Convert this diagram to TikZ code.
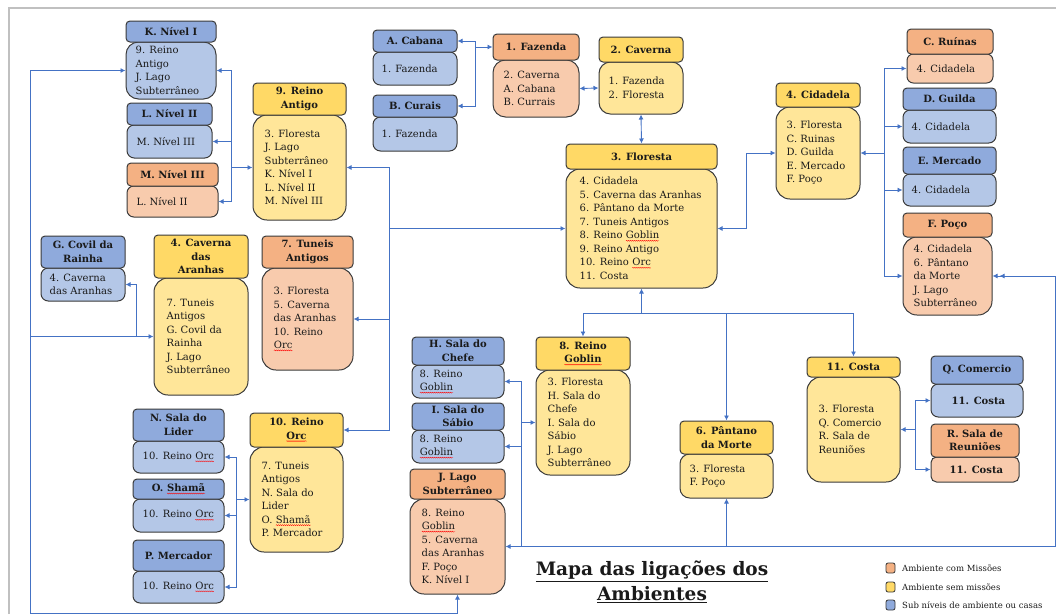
\documentclass[tikz,border=0pt]{standalone}
\usepackage{fontspec}
\setmainfont{DejaVu Serif}
\usetikzlibrary{arrows.meta,decorations.pathmorphing}
\definecolor{oH}{HTML}{F4B183}
\definecolor{oB}{HTML}{F8CBAD}
\definecolor{yH}{HTML}{FFD966}
\definecolor{yB}{HTML}{FFE699}
\definecolor{bH}{HTML}{8FAADC}
\definecolor{bB}{HTML}{B4C7E7}
\definecolor{bord}{HTML}{3A3A3A}
\definecolor{lnk}{HTML}{4472C4}
\definecolor{frm}{HTML}{C0C0C0}
\definecolor{txt}{HTML}{1A1A1A}
\newcommand\sq[1]{\tikz[baseline=(sqw.base)]{\node[inner sep=0pt, outer sep=0pt, anchor=base, draw=none, fill=none, minimum width=0pt, minimum height=0pt, sharp corners] (sqw) at (0,0) {#1};
 \draw[red, sharp corners, line width=0.35pt, decorate, decoration={snake, amplitude=0.5pt, segment length=2pt}] ([yshift=-1.8pt]sqw.base west) -- ([yshift=-1.8pt]sqw.base east);}}
\tikzset{
 hd/.style={draw=bord, line width=1pt, rounded corners=4pt, inner sep=0pt, align=center, text=txt, font=\bfseries\fontsize{10}{13.5}\selectfont},
 bx/.style={draw=bord, line width=1pt, inner sep=0pt},
 bt/.style={inner sep=0pt, align=left, anchor=west, text=txt, font=\fontsize{10}{13.5}\selectfont},
 lk/.style={draw=lnk, line width=0.9pt},
 ar/.style={lk, -{Latex[length=5pt,width=5pt]}},
 ar2/.style={lk, {Latex[length=5pt,width=5pt]}-{Latex[length=5pt,width=5pt]}},
 lg/.style={draw=bord, line width=0.8pt, rounded corners=2pt, minimum width=9pt, minimum height=10pt, inner sep=0pt},
 lt/.style={anchor=west, inner sep=0pt, text=txt, font=\fontsize{8.5}{10}\selectfont},
}
% name, colour, x1, x2, y-top, y-split, y-bottom, header text
\newcommand\ent[8]{%
 \pgfmathsetmacro\eew{#4-#3}%
 \pgfmathsetmacro\eeh{#6-#5}%
 \pgfmathsetmacro\eebh{#7-#6}%
 \pgfmathsetmacro\eer{min(14,0.22*\eebh)}%
 \pgfmathsetmacro\eecx{(#3+#4)/2}%
 \pgfmathsetmacro\eehy{(#5+#6)/2}%
 \pgfmathsetmacro\eeby{(#6+#7)/2}%
 \node[bx, fill=#2B, rounded corners=\eer pt, minimum width=\eew pt, minimum height=\eebh pt] (#1b) at (\eecx,\eeby) {};%
 \node[hd, fill=#2H, minimum width=\eew pt, minimum height=\eeh pt] (#1h) at (\eecx,\eehy) {#8};%
}
\newcommand\btx[3][11]{\node[bt] (#2t) at ([xshift=#1pt]#2b.west) {#3};}
\begin{document}
\begin{tikzpicture}[x=1pt,y=-1pt]
\useasboundingbox (0,0) rectangle (1056,614);
\draw[frm, line width=1.5pt] (9,614) -- (9,8) -- (1056,8);

% entities
\ent{K}{b}{126}{216}{21}{42}{99}{K. Nível I}
\btx[10]{K}{9. Reino\\Antigo\\J. Lago\\Subterrâneo}
\ent{L}{b}{127}{212}{103}{125}{158}{L. Nível II}
\btx[10]{L}{M. Nível III}
\ent{M}{o}{127}{218}{163}{186}{217}{M. Nível III}
\btx[10]{M}{L. Nível II}
\ent{RA}{y}{253}{346}{83}{115}{220}{9. Reino\\Antigo}
\btx[12]{RA}{3. Floresta\\J. Lago\\Subterrâneo\\K. Nível I\\L. Nível II\\M. Nível III}
\ent{Ca}{b}{373}{457}{30}{52}{85}{A. Cabana}
\btx[9]{Ca}{1. Fazenda}
\ent{Cu}{b}{373}{457}{95}{117}{151}{B. Curais}
\btx[9]{Cu}{1. Fazenda}
\ent{Fz}{o}{493}{579}{34}{60}{117}{1. Fazenda}
\btx[11]{Fz}{2. Caverna\\A. Cabana\\B. Currais}
\ent{Cv}{y}{599}{683}{37}{62}{114}{2. Caverna}
\btx[10]{Cv}{1. Fazenda\\2. Floresta}
\ent{Fl}{y}{566}{717}{144}{169}{288}{3. Floresta}
\btx[14]{Fl}{4. Cidadela\\5. Caverna das Aranhas\\6. Pântano da Morte\\7. Tuneis Antigos\\8. Reino \sq{Goblin}\\9. Reino Antigo\\10. Reino \sq{Orc}\\11. Costa}
\ent{Ci}{y}{776}{860}{83}{107}{199}{4. Cidadela}
\btx[11]{Ci}{3. Floresta\\C. Ruinas\\D. Guilda\\E. Mercado\\F. Poço}
\ent{C}{o}{907}{993}{29}{54}{83}{C. Ruínas}
\btx[10]{C}{4. Cidadela}
\ent{D}{b}{903}{996}{88}{110}{143}{D. Guilda}
\btx[9]{D}{4. Cidadela}
\ent{E}{b}{903}{996}{147}{174}{206}{E. Mercado}
\btx[9]{E}{4. Cidadela}
\ent{F}{o}{903}{992}{213}{237}{315}{F. Poço}
\btx[11]{F}{4. Cidadela\\6. Pântano\\da Morte\\J. Lago\\Subterrâneo}
\ent{G}{b}{41}{125}{236}{268}{301}{G. Covil da\\Rainha}
\btx[9]{G}{4. Caverna\\das Aranhas}
\ent{CA}{y}{154}{248}{235}{278}{395}{4. Caverna\\das\\Aranhas}
\btx[13]{CA}{7. Tuneis\\Antigos\\G. Covil da\\Rainha\\J. Lago\\Subterrâneo}
\ent{T}{o}{262}{353}{236}{268}{370}{7. Tuneis\\Antigos}
\btx[12]{T}{3. Floresta\\5. Caverna\\das Aranhas\\10. Reino\\\sq{Orc}}
\ent{N}{b}{133}{224}{409}{441}{473}{N. Sala do\\Lider}
\btx[10]{N}{10. Reino \sq{Orc}}
\ent{O}{b}{133}{224}{479}{499}{532}{O. \sq{Shamã}}
\btx[10]{O}{10. Reino \sq{Orc}}
\ent{P}{b}{133}{224}{540}{571}{603}{P. Mercador}
\btx[10]{P}{10. Reino \sq{Orc}}
\ent{Or}{y}{250}{343}{413}{447}{552}{10. Reino\\\sq{Orc}}
\btx[12]{Or}{7. Tuneis\\Antigos\\N. Sala do\\Lider\\O. \sq{Shamã}\\P. Mercador}
\ent{H}{b}{412}{504}{337}{365}{398}{H. Sala do\\Chefe}
\btx[8]{H}{8. Reino\\\sq{Goblin}}
\ent{I}{b}{412}{504}{403}{430}{463}{I. Sala do\\Sábio}
\btx[8]{I}{8. Reino\\\sq{Goblin}}
\ent{J}{o}{410}{505}{469}{499}{594}{J. Lago\\Subterrâneo}
\btx[12]{J}{8. Reino\\\sq{Goblin}\\5. Caverna\\das Aranhas\\F. Poço\\K. Nível I}
\ent{Gb}{y}{536}{630}{337}{370}{475}{8. Reino\\\sq{Goblin}}
\btx[12]{Gb}{3. Floresta\\H. Sala do\\Chefe\\I. Sala do\\Sábio\\J. Lago\\Subterrâneo}
\ent{Pa}{y}{680}{773}{421}{454}{498}{6. Pântano\\da Morte}
\btx[10]{Pa}{3. Floresta\\F. Poço}
\ent{Co}{y}{807}{900}{357}{377}{482}{11. Costa}
\btx[12]{Co}{3. Floresta\\Q. Comercio\\R. Sala de\\Reuniões}
\ent{Q}{b}{931}{1023}{356}{384}{417}{Q. Comercio}
\btx[21]{Q}{\textbf{11. Costa}}
\ent{R}{o}{931}{1019}{424}{457}{482}{R. Sala de\\Reuniões}
\btx[19]{R}{\textbf{11. Costa}}

% connectors: Nível I/II/III - Reino Antigo
\coordinate (j9) at ([xshift=-21pt]RAb.west);
\draw[ar] (j9) -- (RAb.west);
\draw[ar] (j9) |- (Kb.east);
\draw[ar] (j9) |- (Lb.east);
\draw[ar] (j9) |- (Mb.east);
% Floresta - Reino Antigo / Tuneis / Orc
\coordinate (jF) at ([xshift=-176pt]Flb.west);
\draw[ar] (jF) -- (Flb.west);
\draw[ar] (jF) |- (RAb.east);
\draw[ar] (jF) |- (Tb.east);
\draw[ar] (jF) |- (Orh.east);
% Cabana / Curais - Fazenda
\coordinate (jC) at ([xshift=-17pt]Fzh.west);
\draw[ar] (jC) -- (Fzh.west);
\draw[ar] (jC) |- (Cah.east);
\draw[ar] (jC) |- (Cuh.east);
% Fazenda - Caverna - Floresta - Cidadela
\draw[ar2] (Fzb.east) -- (Cvb.west);
\draw[ar2] (Cvb.south) -- (Flh.north);
\draw[ar2] (Flb.east) -- ++(29,0) |- (Cib.west);
% Cidadela - C/D/E/F
\coordinate (jCi) at ([xshift=24pt]Cib.east);
\draw[ar] (jCi) -- (Cib.east);
\draw[ar] (jCi) |- (Cb.west);
\draw[ar] (jCi) |- (Db.west);
\draw[ar] (jCi) |- (Eb.west);
\draw[ar] (jCi) |- (Fb.west);
% Lago network
\coordinate (jR) at (1055,546.5);
\coordinate (jJ) at ([xshift=16pt]Jb.east);
\coordinate (jP) at (Pab.south |- jJ);
\draw[ar] (jR) |- (Fb.east);
\draw[ar, shorten >=7pt] (jR) |- (Fb.east);
\draw[lk] (jR) -- (jJ);
\draw[ar] (jJ) -- (Jb.east);
\draw[ar] (jJ) |- (Hb.east);
\draw[ar] (jJ) |- (Ib.east);
\draw[ar] (jJ) |- (Gbb.west);
\draw[ar] (jP) -- (Pab.south);
% bottom loop
\coordinate (jBL) at (30,613);
\coordinate (jA) at (CAb.west -| jBL);
\coordinate (jG) at ([xshift=-17pt]CAb.west);
\draw[ar] (jBL) -| (Jb.south);
\draw[ar] (jBL) |- (Kb.west);
\draw[ar] (jA) -- (CAb.west);
\draw[ar] (jG) |- (Gb.east);
% Floresta down
\coordinate (jFl) at ([yshift=-25pt]Flb.south);
\draw[ar] (jFl) -- (Flb.south);
\draw[ar] (jFl) -| (Gbh.north);
\draw[ar] (jFl) -| (Pah.north);
\draw[ar] (jFl) -| (Coh.north);
% Reino Orc
\coordinate (jO) at ([xshift=-13pt]Orb.west);
\draw[ar] (jO) -- (Orb.west);
\draw[ar] (jO) |- (Nb.east);
\draw[ar] (jO) |- (Ob.east);
\draw[ar] (jO) |- (Pb.east);
% Costa
\coordinate (jCo) at ([xshift=15pt]Cob.east);
\draw[ar] (jCo) -- (Cob.east);
\draw[ar] (jCo) |- (Qb.west);
\draw[ar] (jCo) |- (Rb.west);

% title
\node[align=center, text=txt, font=\bfseries\fontsize{18.5}{25}\selectfont] (title) at (652,582) {\underline{Mapa das ligações dos}\\\underline{Ambientes}};
% legend
\node[lg, fill=oH] (lg1) at (890.5,568) {};
\node[lg, fill=yH] (lg2) at (890.5,587) {};
\node[lg, fill=bH] (lg3) at (890.5,605) {};
\node[lt] (lt1) at (902,568) {Ambiente com Missões};
\node[lt] (lt2) at (902,587) {Ambiente sem missões};
\node[lt] (lt3) at (902,605) {Sub níveis de ambiente ou casas};
\end{tikzpicture}
\end{document}
